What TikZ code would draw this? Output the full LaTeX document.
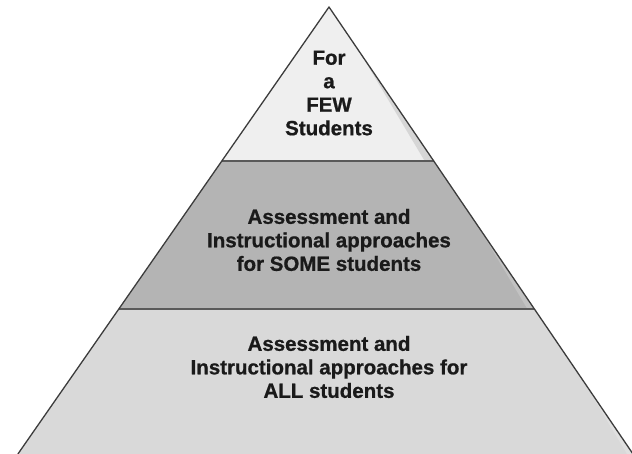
\documentclass[tikz,border=0pt]{standalone}
\usepackage{fontspec}
\setmainfont{Liberation Sans}[BoldFeatures={FakeBold=0.8}]
\usetikzlibrary{calc}
\definecolor{topfill}{HTML}{EFEFEF}
\definecolor{topshade}{HTML}{D6D6D6}
\definecolor{midfill}{HTML}{B4B4B4}
\definecolor{midshade}{HTML}{C2C2C2}
\definecolor{botfill}{HTML}{D9D9D9}
\definecolor{botshade}{HTML}{E0E0E0}
\definecolor{edge}{HTML}{3C3C3C}
\definecolor{sep}{HTML}{5A5A5A}
\definecolor{txt}{HTML}{1A1A1A}
\tikzset{
  outline/.style={draw=edge, line width=1.3pt, line join=round},
  seppart/.style={draw=sep, line width=2.2pt},
  label/.style={align=center, font=\fontsize{20.5}{23.5}\selectfont\bfseries, text=txt, inner sep=0pt}
}
\begin{document}
\begin{tikzpicture}[x=1pt,y=-1pt]
\useasboundingbox (0,0) rectangle (632,454);
% key points
\coordinate (apex) at (329,7);
\coordinate (l1) at (221.8,161);
\coordinate (r1) at (433.7,161);
\coordinate (l2) at (118.8,309);
\coordinate (r2) at (534.4,309);
\coordinate (l3) at (17.9,454);
\coordinate (r3) at (633,454);
% fills
\fill[botfill] (l2) -- (r2) -- (r3) -- (l3) -- cycle;
\fill[botshade] ($(r2)!0.5!(r3)$) -- (r3) -- ++(-6,0) -- cycle;
\fill[midfill] (l1) -- (r1) -- (r2) -- (l2) -- cycle;
\fill[midshade] ($(r1)!0.45!(r2)$) -- (r2) -- ++(-7,0) -- cycle;
\fill[topfill] (apex) -- (r1) -- (l1) -- cycle;
\fill[topshade] ($(apex)!0.3!(r1)$) -- (r1) -- ++(-9,0) -- cycle;
% separators
\draw[seppart] (l1) -- (r1);
\draw[seppart] (l2) -- (r2);
% outline
\draw[outline] (l3) -- (apex) -- (r3);
% texts
\node[label] (few) at (329,93) {For\\a\\FEW\\Students};
\node[label] (some) at (329,240) {Assessment and\\Instructional approaches\\for SOME students};
\node[label] (all) at (329,367) {Assessment and\\Instructional approaches for\\ALL students};
\end{tikzpicture}
\end{document}
